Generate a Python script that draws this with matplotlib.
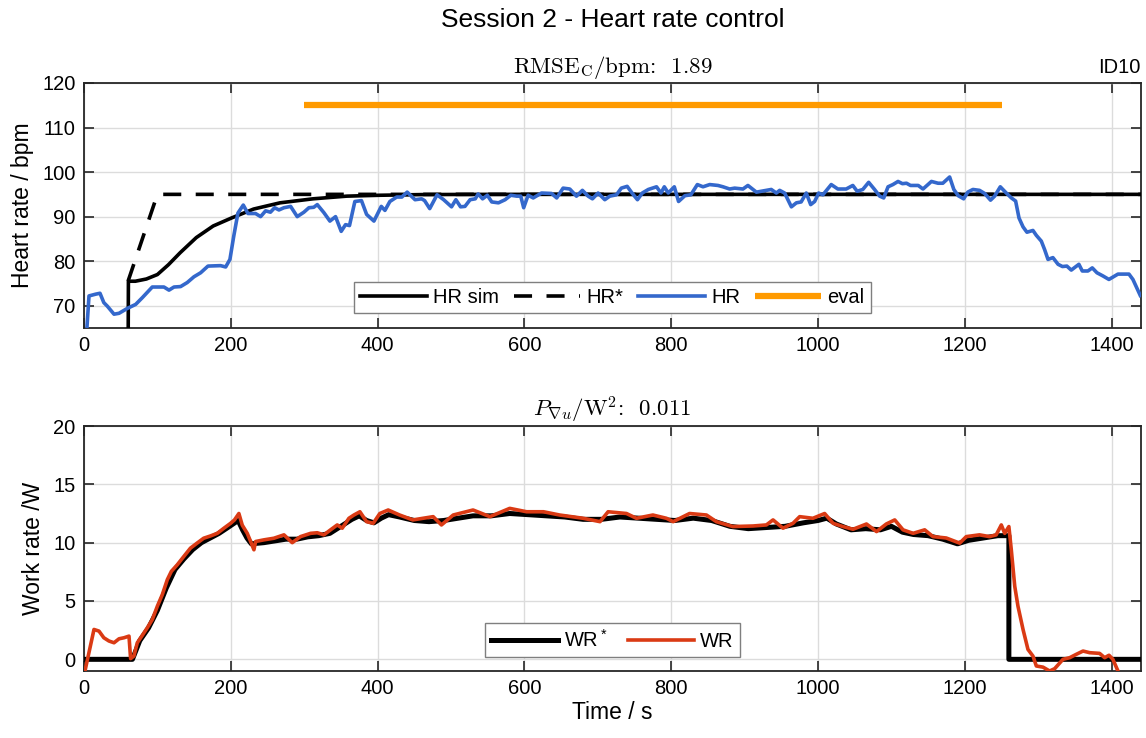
import numpy as np
import matplotlib
matplotlib.use("Agg")
import matplotlib.pyplot as plt

plt.rcParams['font.family'] = ['Liberation Sans', 'DejaVu Sans']
plt.rcParams['mathtext.fontset'] = 'cm'

# ---------------- data ----------------
hr_t = [2, 6.8, 16, 21.8, 27, 31.8, 40.9, 47.7, 59, 70.4, 79.4, 93, 108.9, 115.8, 122.6, 131.6,
        140.6, 149.8, 158.9, 168.9, 186, 193, 198.8, 204, 209.7, 217, 223.3, 233.7, 240.6, 247.4,
        254, 259.7, 265.6, 272.4, 281.5, 290.5, 299.6, 306.4, 313, 317.8, 326.8, 335, 342.7, 350.4,
        356.3, 361.7, 369, 378, 385, 395, 405, 410, 416.7, 426, 433, 440.3, 451, 460, 464, 471,
        481, 490, 500.7, 506.6, 513, 519, 526, 533, 537, 543, 549.5, 555.5, 564.6, 573.7, 581.4,
        589.5, 595, 599, 605, 612, 623.3, 637, 644, 652.7, 661.8, 670.9, 679, 686.8, 692.7, 700.4,
        709.5, 716.3, 725.4, 732, 740, 746.6, 754, 760.6, 768.8, 780, 786, 790.6, 796, 804.2, 810,
        818.6, 826.7, 835.6, 843.3, 852.4, 863.7, 870.5, 879.6, 886.4, 897.7, 904.5, 916, 922.7,
        936.3, 943.2, 947.7, 954.5, 963.7, 970.5, 977, 984, 990, 995.4, 1000.8, 1006.6, 1018, 1027,
        1038.3, 1047.4, 1053.3, 1061, 1069, 1077, 1084, 1089.5, 1095.4, 1102, 1109, 1115, 1120.5,
        1126, 1136.5, 1143, 1154.5, 1163.5, 1170, 1179.3, 1185, 1191, 1198.4, 1204, 1211, 1220,
        1227, 1235, 1240.6, 1248.3, 1256.5, 1263.4, 1269.2, 1273.8, 1279.3, 1284.6, 1292.8, 1297.4,
        1304.2, 1308.7, 1313.3, 1320, 1327, 1333, 1339, 1345, 1355.4, 1360, 1367.7, 1373.6, 1380,
        1388, 1396.3, 1408.6, 1423.6, 1429, 1439]
hr_v = [60, 72.2, 72.6, 72.8, 70.7, 69.9, 68.1, 68.3, 69.4, 70.3, 71.8, 74.2, 74.2, 73.5, 74.2, 74.3,
        75.2, 76.5, 77.4, 78.9, 79.0, 78.7, 80.4, 85.6, 90.8, 92.6, 90.7, 90.7, 90.0, 91.3,
        91.0, 92.0, 91.5, 92.0, 92.3, 90.0, 91.0, 92.0, 92.1, 92.7, 90.9, 89.0, 90.0, 86.7,
        88.2, 88.0, 93.4, 93.6, 90.5, 89.0, 92.3, 91.4, 93.4, 94.4, 94.4, 95.5, 93.8, 94.0, 93.6, 91.8,
        94.9, 93.8, 92.2, 93.8, 92.2, 92.3, 93.8, 94.0, 95.1, 94.0, 94.8, 93.3, 93.1, 93.8, 94.8,
        94.6, 94.6, 92.0, 94.8, 94.2, 95.3, 95.2, 94.2, 96.4, 96.2, 94.6, 95.9, 94.6, 94.0, 95.3,
        93.8, 94.6, 94.9, 96.4, 96.8, 95.3, 93.8, 95.3, 96.1, 96.7, 95.3, 96.7, 95.3, 96.7, 93.4,
        94.7, 94.9, 97.2, 96.7, 97.2, 97.0, 96.7, 96.2, 96.4, 96.2, 97.0, 95.5, 95.7,
        96.1, 95.3, 95.9, 95.3, 92.2, 93.1, 93.3, 95.3, 92.7, 93.4, 95.3, 94.9, 97.2, 96.2,
        96.2, 97.0, 95.7, 96.1, 97.7, 96.1, 94.6, 94.2, 96.7, 97.2, 97.9, 97.4, 97.5,
        97.0, 97.0, 96.2, 97.9, 97.5, 97.5, 98.9, 96.1, 94.7, 94.0, 95.5, 96.1, 95.9,
        95.2, 93.7, 94.6, 96.7, 95.3, 94.2, 93.5, 89.7, 87.7, 86.5, 86.9, 85.8,
        84.5, 82.6, 80.4, 80.8, 79.3, 78.8, 78.9, 78.0, 79.3, 77.8, 77.8, 78.5, 77.4,
        76.7, 75.9, 77.1, 77.1, 75.9, 72.3]

hrsim_t = [60, 60.5, 70, 85, 100, 115, 131, 153, 176, 201, 231, 267, 312, 358, 403, 460, 550, 1440]
hrsim_v = [55, 75.5, 75.5, 76.0, 77.0, 79.2, 81.9, 85.3, 87.9, 89.7, 91.7, 93.1, 94.0, 94.6, 94.8, 94.95, 95.0, 95.0]

hrref_t = [60, 100, 1440]
hrref_v = [75.5, 95, 95]

eval_t = [300, 1250]
eval_v = [115, 115]

wr_t = [0, 2, 13.6, 20.4, 27, 34, 40.9, 47.7, 54.5, 61.3, 63.5, 68, 72.6, 79.4, 86.2, 93, 99.9,
        106.7, 113.5, 119, 127, 136, 145, 154, 163, 172.5, 181.6, 190.6, 199.7, 205, 211, 215.6,
        222.4, 227, 231.5, 233.8, 245, 258.7, 272.4, 283.7, 295, 308.7, 317.8, 326.8, 335.9, 345,
        351.8, 360.9, 367.7, 375.9, 385, 394, 403, 414.4, 430, 448, 475.7, 487, 503, 530, 553,
        580, 603, 626, 648, 680, 703, 714, 739, 752.6, 775, 793.5, 802.6, 825, 848, 861.5, 884,
        911.5, 929.6, 938.7, 952.3, 965.9, 975, 993, 1009, 1020.5, 1034, 1047.7, 1066, 1079.7,
        1093, 1104.5, 1115.8, 1129.5, 1145.3, 1156.6, 1174.7, 1193, 1202, 1220, 1233.6, 1242.7,
        1249.7, 1254.3, 1260, 1263.3, 1268, 1272.4, 1279.3, 1286, 1292.8, 1297.4, 1306.5, 1315.5,
        1322.4, 1333.7, 1342.8, 1351.9, 1361, 1370, 1383.6, 1390.5, 1396.4, 1401.7, 1408.6, 1412]
wr_v = [-1.5, -0.8, 2.56, 2.42, 1.85, 1.57, 1.42, 1.76, 1.85, 1.99, 0.06, 0.28, 1.42, 2.05, 2.7, 3.4, 4.55,
        5.55, 6.83, 7.54, 8.1, 8.82, 9.53, 9.96, 10.38, 10.58, 10.8, 11.24, 11.66, 11.95, 12.5, 11.5,
        10.8, 10.1, 9.39, 10.1, 10.24, 10.38, 10.67, 10.0, 10.52, 10.8, 10.85, 10.67, 11.1, 11.52,
        11.24, 12.09, 12.37, 12.65, 11.8, 11.66, 12.5, 12.8, 12.37, 11.95, 12.23, 11.52, 12.37, 12.8, 12.23,
        12.94, 12.65, 12.65, 12.37, 12.09, 11.8, 12.65, 12.5, 12.09, 12.37, 12.09, 11.8, 12.5, 12.37, 11.8, 11.38,
        11.43, 11.52, 11.95, 11.24, 11.66, 12.23, 12.09, 12.5, 11.66, 11.38, 11.15, 11.6, 10.95,
        11.6, 11.95, 11.1, 10.8, 11.1, 10.52, 10.4, 9.96, 10.52, 10.67, 10.52, 10.67,
        11.52, 10.8, 11.38, 9.39, 6.26, 4.55, 2.56, 0.85, 0.28, -0.57, -0.67, -1.0,
        -0.8, 0.0, 0.14, 0.43, 0.71, 0.57, 0.51, 0.14, 0.35, 0.0, -1.0, -1.5]

wrref_t = [0, 66, 76, 88, 100, 112, 124, 136, 148, 160, 172, 184, 196, 210, 216, 222, 228,
           245, 260, 275, 290, 305, 320, 335, 345, 355, 365, 375, 385, 395, 405, 415, 430,
           450, 470, 490, 510, 530, 555, 580, 605, 630, 655, 680, 705, 730, 755, 780, 805,
           830, 855, 880, 905, 930, 955, 980, 1000, 1012, 1025, 1045, 1065, 1085, 1100, 1115,
           1130, 1150, 1170, 1190, 1205, 1225, 1245, 1260, 1260, 1440]
wrref_v = [0, 0, 1.6, 2.7, 4.2, 6.1, 7.7, 8.6, 9.4, 10.0, 10.4, 10.8, 11.3, 11.9, 11.1, 10.4, 9.9,
           10.0, 10.15, 10.3, 10.3, 10.5, 10.6, 10.8, 11.2, 11.6, 12.0, 12.3, 11.9, 11.7, 12.1, 12.4, 12.2,
           11.9, 11.8, 11.9, 12.1, 12.3, 12.3, 12.5, 12.4, 12.3, 12.2, 12.0, 12.0, 12.2, 12.1, 12.0, 11.9,
           12.1, 11.9, 11.4, 11.2, 11.3, 11.4, 11.7, 11.9, 12.1, 11.6, 11.1, 11.2, 11.1, 11.4, 10.9,
           10.7, 10.6, 10.3, 9.9, 10.2, 10.4, 10.6, 10.6, 0, 0]

xticks = [0, 200, 400, 600, 800, 1000, 1200, 1400]
hr_ticks = [70, 80, 90, 100, 110, 120]
wr_ticks = [0, 5, 10, 15, 20]

# ---------------- figure ----------------
W, H = 1146, 738
fig = plt.figure(figsize=(W / 100, H / 100), dpi=100)
ax1 = fig.add_axes([84 / W, 1 - 328 / H, 1057 / W, 245 / H])
ax2 = fig.add_axes([84 / W, 1 - 671 / H, 1057 / W, 245 / H])

blue = '#3468CC'
orange = '#FF9A00'
red = '#DA3A14'
spine_c = '#262626'
tick_fs = 14.5
lab_fs = 16.5

for ax in (ax1, ax2):
    ax.set_xlim(0, 1440)
    ax.set_xticks(xticks)
    ax.grid(True, color='#dcdcdc', linewidth=1.0)
    ax.set_axisbelow(True)
    ax.tick_params(direction='in', length=7, width=1.2, labelsize=tick_fs, top=True, right=True,
                   colors=spine_c, labelcolor='black', pad=6)
    for s in ax.spines.values():
        s.set_color(spine_c)
        s.set_linewidth(1.3)

leg_kw = dict(fontsize=tick_fs, frameon=True, fancybox=False, edgecolor='#7f7f7f', framealpha=1,
              handlelength=3.3, handletextpad=0.3, borderpad=0.3, borderaxespad=0)

# top panel
ax1.plot(hrsim_t, hrsim_v, color='black', lw=2.6, label='HR sim', zorder=3)
ax1.plot(hrref_t, hrref_v, color='black', lw=2.6, dashes=(5, 4), dash_capstyle='butt',
         label='HR*', zorder=3)
ax1.plot(hr_t, hr_v, color=blue, lw=2.6, label='HR', zorder=4)
ax1.plot(eval_t, eval_v, color=orange, lw=4.5, label='eval', zorder=4, solid_capstyle='butt')
ax1.set_ylim(65, 120)
ax1.set_yticks(hr_ticks)
ax1.set_ylabel('Heart rate / bpm', fontsize=lab_fs, labelpad=6)
ax1.set_title(r'$\mathrm{RMSE_C/bpm}$:  1.89', fontsize=16.5, pad=7, family='cmr10')
ax1.text(1.0, 1.025, 'ID10', transform=ax1.transAxes, ha='right', va='bottom', fontsize=tick_fs)
leg1 = ax1.legend(loc='lower center', bbox_to_anchor=(0.5, 0.06), ncol=4,
                  columnspacing=0.75, **leg_kw)
leg1.get_frame().set_linewidth(1.0)

# bottom panel
ax2.plot(wrref_t, wrref_v, color='black', lw=3.6, label=r'$\mathregular{WR^*}$', zorder=3)
ax2.plot(wr_t, wr_v, color=red, lw=2.6, label='WR', zorder=4)
ax2.set_ylim(-1, 20)
ax2.set_yticks(wr_ticks)
ax2.set_ylabel('Work rate /W', fontsize=lab_fs, labelpad=6)
ax2.set_xlabel('Time / s', fontsize=lab_fs, labelpad=2)
ax2.set_title(r'$P_{\nabla u}/\mathrm{W}^2$:  0.011', fontsize=16.5, pad=7, family='cmr10')
leg2 = ax2.legend(loc='lower center', bbox_to_anchor=(0.5, 0.057), ncol=2,
                  columnspacing=1.0, **leg_kw)
leg2.get_frame().set_linewidth(1.0)

fig.text(612.5 / W, 1 - 8 / H, 'Session 2 - Heart rate control', fontsize=19, ha='center', va='top')

fig.savefig('out.png', dpi=100)
